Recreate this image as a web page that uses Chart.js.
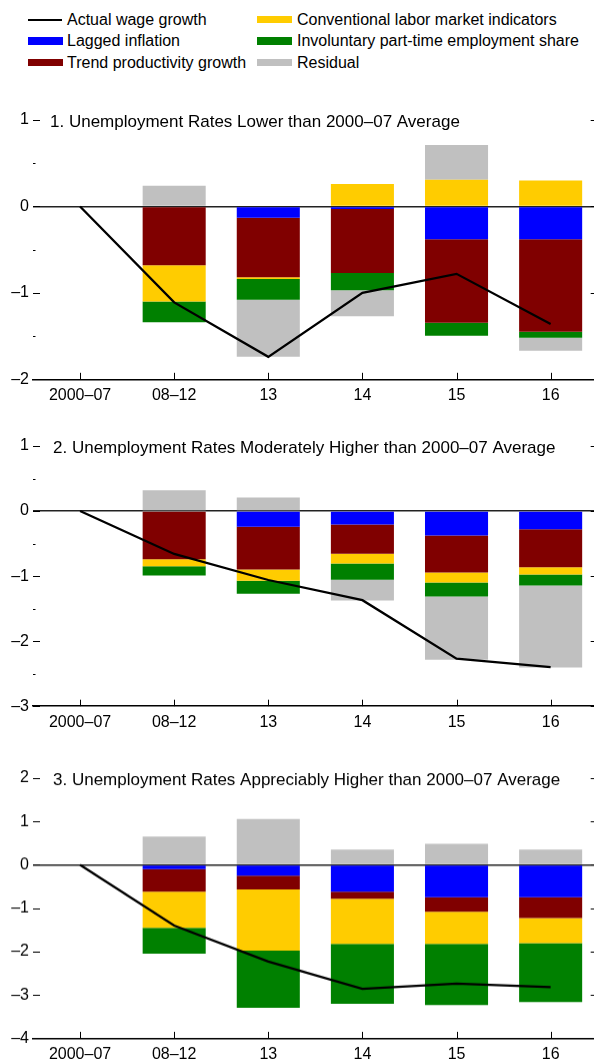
<!DOCTYPE html>
<html>
<head>
<meta charset="utf-8">
<script src="https://cdn.jsdelivr.net/npm/chart.js@4.4.1/dist/chart.umd.min.js"></script>
<style>
  html, body { margin: 0; padding: 0; background: #fff; overflow: hidden; width: 594px; height: 1063px; }
  body { position: relative; font-family: "Liberation Sans", Arial, sans-serif; }
  .panel { position: absolute; left: 0; width: 600px; }
  .leg { position: absolute; font-size: 16px; line-height: 22px; color: #000; white-space: nowrap; }
  .sw { position: absolute; }
</style>
</head>
<body>
<div id="legend"></div>
<div class="panel" id="p1" style="top:100px;height:309.3px"><canvas id="c1"></canvas></div>
<div class="panel" id="p2" style="top:425.5px;height:310.2px"><canvas id="c2"></canvas></div>
<div class="panel" id="p3" style="top:758.3px;height:309.4px"><canvas id="c3"></canvas></div>
<script>
// categories and series
const categories = ['2000\u201307', '08\u201312', '13', '14', '15', '16'];
const seriesNames = ['Lagged inflation', 'Trend productivity growth', 'Conventional labor market indicators',
  'Involuntary part-time employment share', 'Residual'];
const seriesColors = ['#0000ff', '#800000', '#ffcc00', '#008000', '#c0c0c0'];
const lineName = 'Actual wage growth';

// Panel 1: unemployment rates lower than 2000-07 average
const wage1 = [0, -1.11, -1.74, -1.00, -0.78, -1.36];
const lagged1 = [null, -0.01, -0.13, -0.03, -0.38, -0.38];
const trend1 = [null, -0.67, -0.69, -0.74, -0.965, -1.07];
const conv1 = [null, -0.42, -0.02, 0.26, 0.31, 0.30];
const invol1 = [null, -0.24, -0.24, -0.20, -0.15, -0.07];
const resid1 = [null, 0.24, -0.66, -0.30, 0.40, -0.15];

// Panel 2: moderately higher
const wage2 = [0, -0.66, -1.06, -1.37, -2.27, -2.40];
const lagged2 = [null, 0, -0.24, -0.205, -0.375, -0.28];
const trend2 = [null, -0.74, -0.66, -0.45, -0.57, -0.585];
const conv2 = [null, -0.11, -0.17, -0.15, -0.155, -0.11];
const invol2 = [null, -0.14, -0.20, -0.25, -0.215, -0.17];
const resid2 = [null, 0.32, 0.21, -0.32, -0.97, -1.26];

// Panel 3: appreciably higher
const wage3 = [0, -1.40, -2.23, -2.86, -2.74, -2.82];
const lagged3 = [null, -0.10, -0.25, -0.62, -0.745, -0.745];
const trend3 = [null, -0.52, -0.32, -0.16, -0.34, -0.48];
const conv3 = [null, -0.83, -1.41, -1.04, -0.74, -0.58];
const invol3 = [null, -0.60, -1.315, -1.385, -1.41, -1.36];
const resid3 = [null, 0.65, 1.06, 0.35, 0.485, 0.35];

const FONT = '"Liberation Sans", Arial, sans-serif';
const dash = v => (v < 0 ? '\u2013' + Math.abs(v) : String(v));

// legend (two columns, column-major)
const legendItems = [
  { name: lineName, line: true },
  { name: seriesNames[0], color: seriesColors[0] },
  { name: seriesNames[1], color: seriesColors[1] },
  { name: seriesNames[2], color: seriesColors[2] },
  { name: seriesNames[3], color: seriesColors[3] },
  { name: seriesNames[4], color: seriesColors[4] }
];
const legend = document.getElementById('legend');
legendItems.forEach((it, i) => {
  const col = Math.floor(i / 3), row = i % 3;
  const cy = 19.5 + row * 21.5;
  const sx = col ? 257 : 28;
  const sw = document.createElement('div');
  sw.className = 'sw';
  if (it.line) {
    sw.style.cssText = `left:${sx}px;top:${cy - 1}px;width:34px;height:2px;background:#000`;
  } else {
    sw.style.cssText = `left:${sx}px;top:${cy - 3.7}px;width:35px;height:7.4px;background:${it.color}`;
  }
  legend.appendChild(sw);
  const t = document.createElement('div');
  t.className = 'leg';
  t.textContent = it.name;
  t.style.left = (col ? 297 : 67) + 'px';
  t.style.top = (cy - 11) + 'px';
  legend.appendChild(t);
});

// tick marks drawn inward + panel title
const marks = {
  id: 'marks',
  afterDraw(chart, args, opts) {
    const { ctx, chartArea: a, scales: { x, y } } = chart;
    ctx.save();
    ctx.strokeStyle = '#000';
    ctx.lineWidth = 1;
    const seg = (x1, y1, x2, y2) => { ctx.beginPath(); ctx.moveTo(x1, y1); ctx.lineTo(x2, y2); ctx.stroke(); };
    y.ticks.forEach(t => {
      const py = Math.round(y.getPixelForValue(t.value)) + 0.5;
      const len = Number.isInteger(t.value) ? 7 : 2.5;
      seg(a.left, py, a.left + len, py);
      seg(a.right, py, a.right - len, py);
    });
    x.ticks.forEach((t, i) => {
      const px = Math.round(x.getPixelForTick(i)) + 0.5;
      seg(px, a.bottom, px, a.bottom - 6.5);
    });
    ctx.font = '17px ' + FONT;
    ctx.fillStyle = '#000';
    ctx.textBaseline = 'middle';
    ctx.fillText(opts.text, a.left + opts.dx, a.top + 2);
    ctx.restore();
  }
};

function makePanel(id, title, dx, yMin, yMax, wage, lagged, trend, conv, invol, resid) {
  const bars = [lagged, trend, conv, invol, resid].map((d, i) => ({
    type: 'bar',
    label: seriesNames[i],
    data: d,
    backgroundColor: seriesColors[i],
    borderWidth: 0,
    stack: 'parts',
    order: 2,
    barPercentage: 0.67,
    categoryPercentage: 1
  }));
  return new Chart(document.getElementById(id), {
    data: {
      labels: categories,
      datasets: [{
        type: 'line',
        label: lineName,
        data: wage,
        borderColor: '#000',
        borderWidth: 2.3,
        pointRadius: 0,
        tension: 0,
        stack: 'wage',
        order: 0
      }].concat(bars)
    },
    options: {
      responsive: true,
      maintainAspectRatio: false,
      animation: false,
      layout: { padding: { top: 20, right: 2.3, bottom: 0, left: 0 } },
      plugins: {
        legend: { display: false },
        tooltip: { enabled: false },
        marks: { text: title, dx: dx }
      },
      scales: {
        x: {
          stacked: true,
          grid: { display: false, drawTicks: false },
          border: { display: true, color: '#000', width: 1.5 },
          ticks: { color: '#000', font: { family: FONT, size: 16 }, padding: 7, maxRotation: 0, autoSkip: false },
          afterFit: s => { s.height = 30; }
        },
        y: {
          stacked: true,
          min: yMin,
          max: yMax,
          z: 1,
          grid: {
            drawTicks: false,
            color: c => (c.tick && c.tick.value === 0 ? '#222' : 'rgba(0,0,0,0)'),
            lineWidth: 1.4
          },
          border: { display: false },
          ticks: {
            stepSize: 0.5,
            color: '#000',
            padding: 4,
            font: { family: FONT, size: 16 },
            callback: v => (Number.isInteger(v) ? dash(v) : '')
          },
          afterFit: s => { s.width = 33; }
        }
      }
    },
    plugins: [marks]
  });
}

makePanel('c1', '1. Unemployment Rates Lower than 2000\u201307 Average', 17, -2, 1,
  wage1, lagged1, trend1, conv1, invol1, resid1);
makePanel('c2', '2. Unemployment Rates Moderately Higher than 2000\u201307 Average', 20, -3, 1,
  wage2, lagged2, trend2, conv2, invol2, resid2);
makePanel('c3', '3. Unemployment Rates Appreciably Higher than 2000\u201307 Average', 20, -4, 2,
  wage3, lagged3, trend3, conv3, invol3, resid3);
</script>
</body>
</html>
